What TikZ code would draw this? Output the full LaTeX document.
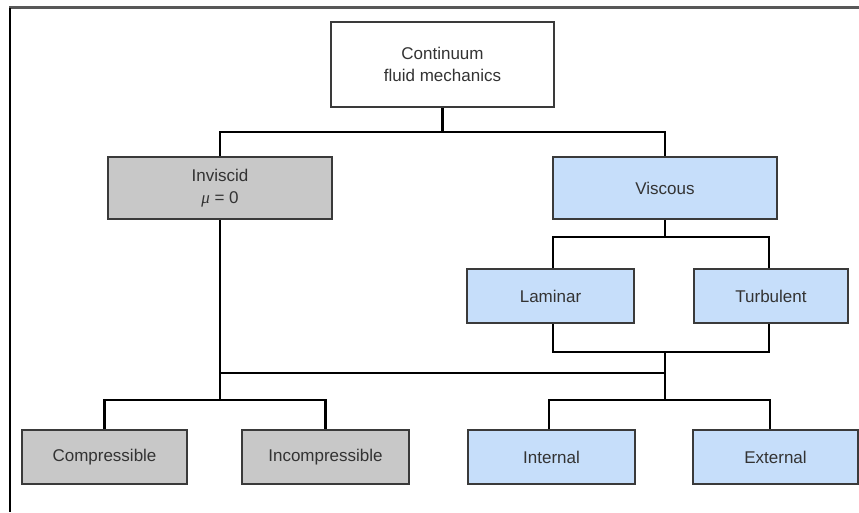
\documentclass[tikz,border=0pt]{standalone}
\usepackage{fontspec}
\setmainfont{Liberation Sans}
\newfontfamily\mufont{Liberation Serif}
\definecolor{grayfill}{HTML}{C8C8C8}
\definecolor{bluefill}{HTML}{C6DEFA}
\definecolor{edge}{HTML}{3A3A3A}
\definecolor{txt}{HTML}{333333}
\begin{document}
\begin{tikzpicture}[x=1pt,y=-1pt,
  box/.style={draw=edge, line width=1.5pt, minimum width=#1, text=txt, align=center,
    font=\fontsize{17}{22}\selectfont, inner sep=0pt},
  whitebox/.style={box=223pt, fill=white, minimum height=85pt},
  graybox/.style={box=#1, fill=grayfill, minimum height=54pt},
  bluebox/.style={box=#1, fill=bluefill, minimum height=54pt},
  conn/.style={draw=black, line width=2.4pt}]
\useasboundingbox (0,0) rectangle (859,512);
\fill[white] (0,0) rectangle (859,512);
% frame
\draw[line width=2.6pt, color=edge!85] (9,7.5) -- (859,7.5);
\draw[line width=2pt, color=black] (9.5,7.5) -- (9.5,512);
% connectors
\coordinate (j1) at (442.5,132);
\coordinate (j2) at (665,237);
\coordinate (j3) at (665,352);
\coordinate (jm) at (665,373);
\coordinate (jml) at (220,373);
\coordinate (jl) at (220,400);
\coordinate (jr) at (665,400);
% nodes
\node[whitebox] (top) at (442.5,64.5) {Continuum\\fluid mechanics};
\node[graybox=224pt, minimum height=62pt] (inv) at (220,188) {Inviscid\\{\mufont\itshape μ} = 0};
\node[bluebox=224pt, minimum height=62pt] (visc) at (665,188) {Viscous};
\node[bluebox=167pt] (lam) at (550.5,296) {Laminar};
\node[bluebox=154pt] (turb) at (771,296) {Turbulent};
\node[graybox=165pt] (comp) at (104.5,457) {Compressible};
\node[graybox=167pt] (incomp) at (325.5,457) {Incompressible};
\node[bluebox=167pt] (int) at (551.5,457) {Internal};
\node[bluebox=165pt] (ext) at (775.5,457) {External};
\draw[conn] (top.south) -- (j1);
\draw[conn] (inv.north) |- (j1) -| (visc.north);
\draw[conn] (visc.south) -- (j2);
\draw[conn] ([xshift=2.5pt]lam.north) |- (j2) -| ([xshift=-2pt]turb.north);
\draw[conn] ([xshift=2.5pt]lam.south) |- (j3) -| ([xshift=-2pt]turb.south);
\draw[conn] (j3) -- (jr);
\draw[conn] (jml) -- (jm);
\draw[conn] (inv.south) -- (jl);
\draw[conn] (comp.north) |- (jl) -| (incomp.north);
\draw[conn] ([xshift=-2.5pt]int.north) |- (jr) -| ([xshift=-5.5pt]ext.north);
\end{tikzpicture}
\end{document}
